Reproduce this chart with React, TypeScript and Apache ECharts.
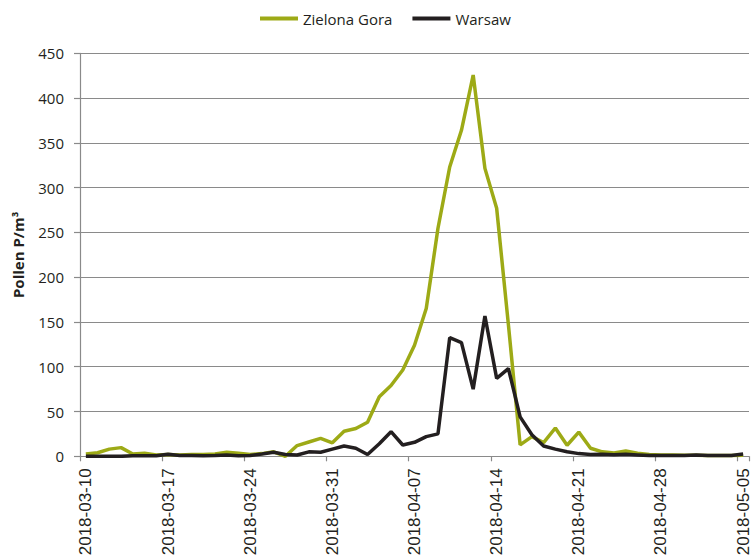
import React, { useEffect, useRef } from "react";
import * as echarts from "echarts";

const dates: string[] = [];
(function build() {
  const start = Date.UTC(2018, 2, 10);
  for (let i = 0; i < 57; i++) {
    const d = new Date(start + i * 86400000);
    const m = String(d.getUTCMonth() + 1).padStart(2, "0");
    const day = String(d.getUTCDate()).padStart(2, "0");
    dates.push(`2018-${m}-${day}`);
  }
})();

const zielonaGora = [
  2.6, 4, 8, 9.7, 2.6, 3.3, 1.5, 2, 1.5, 2, 2, 2.5, 4.5, 3.3, 2, 3, 5, 0,
  12, 16, 20, 15, 28, 31, 38, 66.6, 79, 96.4, 124, 165, 254.6, 323, 364,
  425.7, 321.5, 277, 147, 12.7, 22, 15.3, 31.6, 12.3, 27, 9, 5, 3.7, 6,
  3.5, 2, 1.5, 1.5, 1.2, 1.2, 1, 1, 1, 1.2,
];

const warsaw = [
  0, 0, 0, 0, 0.5, 0.5, 0.5, 2.2, 1, 0.8, 0.5, 0.8, 1.5, 0.5, 1, 2.5, 4.5,
  2, 1.5, 5, 4.5, 8, 11.5, 9, 2, 14, 27.5, 12.6, 15.6, 22, 25, 132.5, 127,
  75, 156.7, 87, 98, 44, 24, 11.5, 8, 5, 3, 2, 2.2, 1.8, 2.2, 1.5, 0.8, 1,
  0.8, 1, 1.5, 0.8, 0.8, 0.8, 2.6,
];

const seriesNames = ["Zielona Gora", "Warsaw"];
const seriesColors = ["#9daa16", "#231f20"];

export default function App() {
  const ref = useRef<HTMLDivElement>(null);
  useEffect(() => {
    if (!ref.current) return;
    const chart = echarts.init(ref.current, undefined, { renderer: "svg" });
    chart.setOption({
      animation: false,
      backgroundColor: "#ffffff",
      legend: {
        top: 6,
        left: 255,
        itemWidth: 38,
        itemHeight: 4,
        itemGap: 20,
        icon: "rect",
        data: seriesNames,
        textStyle: {
          fontFamily: "Open Sans",
          fontSize: 15,
          color: "#231f20",
        },
      },
      grid: {
        left: 80,
        right: 3,
        top: 53.3,
        bottom: 98.7,
        containLabel: false,
        outerBoundsMode: "none",
      },
      xAxis: {
        type: "category",
        data: dates,
        boundaryGap: true,
        axisLine: { show: true, lineStyle: { color: "#8a8a8a", width: 1.2 } },
        axisTick: {
          show: true,
          interval: 6,
          length: 5,
          lineStyle: { color: "#8a8a8a", width: 1.2 },
        },
        axisLabel: {
          interval: 6,
          rotate: 90,
          margin: 12,
          fontFamily: "Liberation Sans",
          fontSize: 17,
          color: "#231f20",
        },
        splitLine: { show: false },
      },
      yAxis: {
        type: "value",
        min: 0,
        max: 450,
        interval: 50,
        name: "Pollen P/m³",
        nameLocation: "middle",
        nameGap: 55,
        nameTextStyle: {
          fontFamily: "Open Sans",
          fontWeight: "bold",
          fontSize: 15,
          color: "#231f20",
        },
        axisLine: { show: true, lineStyle: { color: "#8a8a8a", width: 1.2 } },
        axisTick: {
          show: true,
          inside: false,
          length: 6,
          lineStyle: { color: "#8a8a8a", width: 1.2 },
        },
        axisLabel: {
          margin: 16,
          fontFamily: "Open Sans",
          fontSize: 15,
          color: "#231f20",
        },
        splitLine: { show: true, lineStyle: { color: "#8a8a8a", width: 1.2 } },
      },
      series: [
        {
          name: seriesNames[0],
          type: "line",
          data: zielonaGora,
          symbol: "none",
          showSymbol: false,
          color: seriesColors[0],
          lineStyle: { color: seriesColors[0], width: 3.5 },
        },
        {
          name: seriesNames[1],
          type: "line",
          data: warsaw,
          symbol: "none",
          showSymbol: false,
          color: seriesColors[1],
          lineStyle: { color: seriesColors[1], width: 3.5 },
        },
      ],
    });
    return () => chart.dispose();
  }, []);
  return (
    <div
      ref={ref}
      style={{ position: "fixed", left: 0, top: 0, width: 752, height: 555 }}
    />
  );
}
